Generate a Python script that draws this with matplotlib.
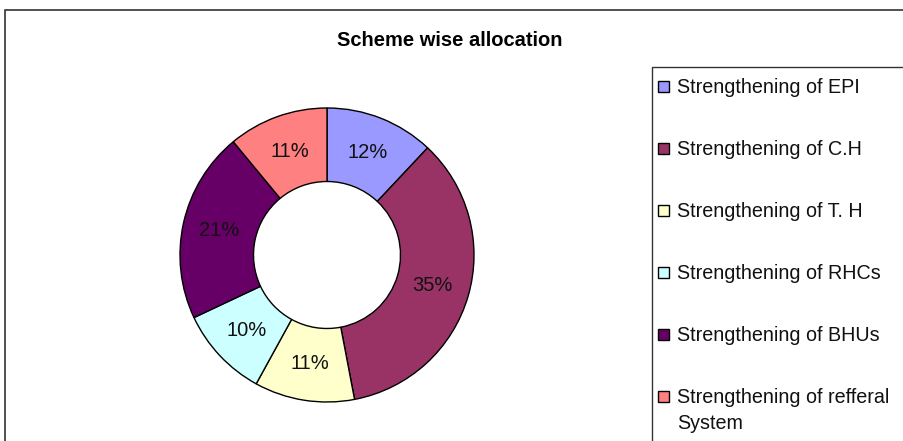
import matplotlib
matplotlib.use("Agg")
import matplotlib.pyplot as plt
from matplotlib.patches import Rectangle

plt.rcParams['font.family'] = ['Liberation Sans', 'DejaVu Sans']

labels = ["Strengthening of EPI", "Strengthening of C.H", "Strengthening of T. H",
          "Strengthening of RHCs", "Strengthening of BHUs",
          "Strengthening of refferal\nSystem"]
values = [12, 35, 11, 10, 21, 11]
colors = ["#9999FF", "#993366", "#FFFFCC", "#CCFFFF", "#660066", "#FF8080"]
title = "Scheme wise allocation"

W, H = 904, 441
fig = plt.figure(figsize=(W / 100, H / 100), dpi=100)

def fx(px):
    return px / W

def fy(py):
    return 1 - py / H

# outer chart frame
fig.patches.append(Rectangle((fx(5), -0.2), 2, fy(10) + 0.2, transform=fig.transFigure,
                             fill=False, edgecolor="#333333", lw=1.2))

# pie axes
cx, cy, r = 327, 255, 147
ax = fig.add_axes([fx(cx - r), fy(cy + r), 2 * r / W, 2 * r / H])
wedges, texts, autotexts = ax.pie(values, colors=colors, startangle=90, counterclock=False,
                                  radius=1, autopct='%1.0f%%', pctdistance=0.75,
                                  wedgeprops=dict(width=0.5, edgecolor='black', linewidth=1),
                                  textprops=dict(fontsize=14.5, color='#111111'))
ax.set_xlim(-1.0, 1.0)
ax.set_ylim(-1.0, 1.0)
ax.set_aspect('auto')
ax.axis('off')

fig.text(fx(450), fy(40), title, ha='center', va='center', fontsize=14.5, fontweight='bold')

# legend box
fig.patches.append(Rectangle((fx(652), -0.2), 2, fy(67) + 0.2, transform=fig.transFigure,
                             fill=False, edgecolor="#333333", lw=1))
y0, step, line_h = 86.5, 62, 26
sq = 11
for i, (lab, col) in enumerate(zip(labels, colors)):
    yc = y0 + i * step
    fig.patches.append(Rectangle((fx(658), fy(yc + sq / 2)), sq / W, sq / H,
                                 transform=fig.transFigure, facecolor=col,
                                 edgecolor='black', lw=1))
    for k, line in enumerate(lab.split("\n")):
        fig.text(fx(677), fy(yc + 6.5 + k * line_h), line, ha='left', va='baseline',
                 fontsize=14.2, color='#111111')

fig.savefig("out.png", dpi=100)
